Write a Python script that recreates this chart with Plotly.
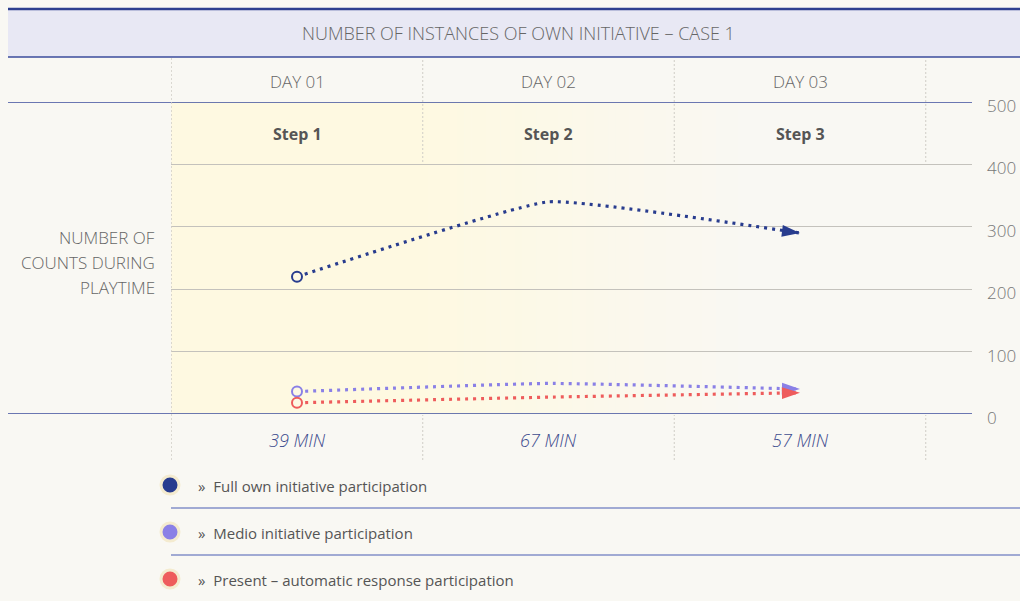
import plotly.graph_objects as go

# ---------------- data ----------------
categories = ["DAY 01", "DAY 02", "DAY 03"]
steps = ["Step 1", "Step 2", "Step 3"]
durations = ["39 MIN", "67 MIN", "57 MIN"]
series_names = [
    "Full own initiative participation",
    "Medio initiative participation",
    "Present – automatic response participation",
]
full_own = [220, 340, 290]
medio = [36, 49, 40]
present = [18, 27, 34]
y_ticks = [0, 100, 200, 300, 400, 500]
title_text = "NUMBER OF INSTANCES OF OWN INITIATIVE – CASE 1"
y_title_lines = ["NUMBER OF", "COUNTS DURING", "PLAYTIME"]

# ---------------- style ----------------
W, H = 1020, 601
BG = "#f9f8f3"
YEL = (254, 249, 225)
BGC = (249, 248, 243)
BLUE_LINE = "#3b4c9c"
COLORS = ["#283c8e", "#8a80e6", "#ee5c5c"]
FONT = "Open Sans"


def sx(x):
    return x / W


def sy(y):
    return 1 - y / H


X0_PX, STEP_PX = 297.0, 251.5


def xd(p):
    return (p - X0_PX) / STEP_PX


xi = list(range(len(categories)))
series = [full_own, medio, present]

fig = go.Figure()

for name, vals, col in zip(series_names, series, COLORS):
    n = len(vals)
    fig.add_trace(go.Scatter(
        x=xi, y=vals, mode="lines+markers", name=name,
        line=dict(color=col, width=3.2, dash="3px,5px", shape="spline", smoothing=0.35),
        marker=dict(symbol="arrow", size=[0] * (n - 1) + [19], color=col, opacity=1,
                    angleref="previous", line=dict(width=0)),
        showlegend=False, hoverinfo="skip", cliponaxis=False,
    ))
    fig.add_trace(go.Scatter(
        x=xi[:1], y=vals[:1], mode="markers", name=name,
        marker=dict(symbol="circle", size=10, color="#fdf8e4", line=dict(color=col, width=2)),
        showlegend=False, hoverinfo="skip", cliponaxis=False,
    ))

shapes = []
shapes.append(dict(type="rect", xref="x", yref="y", x0=-0.5, x1=xd(421), y0=0, y1=500,
                   fillcolor="rgb(%d,%d,%d)" % YEL, line=dict(width=0), layer="below"))
N = 45
g0, g1 = 421.0, 745.0
for i in range(N):
    a = g0 + (g1 - g0) * i / N
    b = g0 + (g1 - g0) * (i + 1) / N
    t = (i + 0.5) / N
    c = tuple(round(YEL[k] + (BGC[k] - YEL[k]) * t) for k in range(3))
    shapes.append(dict(type="rect", xref="x", yref="y", x0=xd(a), x1=xd(b) + 0.002, y0=0, y1=500,
                       fillcolor="rgb(%d,%d,%d)" % c, line=dict(width=0), layer="below"))

# header band
shapes.append(dict(type="rect", xref="paper", yref="paper", x0=sx(8), x1=1, y0=sy(57), y1=sy(8),
                   fillcolor="#e8e8f4", line=dict(width=0), layer="below"))
shapes.append(dict(type="line", xref="paper", yref="paper", x0=sx(8), x1=1, y0=sy(9), y1=sy(9),
                   line=dict(color="#2e3f8f", width=2.5)))
shapes.append(dict(type="line", xref="paper", yref="paper", x0=sx(8), x1=1, y0=sy(57), y1=sy(57),
                   line=dict(color=BLUE_LINE, width=1.5)))
for v in (0, 500):
    shapes.append(dict(type="line", xref="paper", yref="y", x0=sx(8), x1=sx(972), y0=v, y1=v,
                       line=dict(color=BLUE_LINE, width=1.5)))
bounds = [i - 0.5 for i in range(len(categories) + 1)]
for j, b in enumerate(bounds):
    if j == 0:
        shapes.append(dict(type="line", xref="x", yref="paper", x0=b, x1=b, y0=sy(460), y1=sy(58),
                           line=dict(color="#cfcdc6", width=1, dash="2px,2px")))
    else:
        shapes.append(dict(type="line", xref="x", yref="paper", x0=b, x1=b, y0=sy(162), y1=sy(58),
                           line=dict(color="#cfcdc6", width=1, dash="2px,2px")))
        shapes.append(dict(type="line", xref="x", yref="paper", x0=b, x1=b, y0=sy(460), y1=sy(415),
                           line=dict(color="#cfcdc6", width=1, dash="2px,2px")))
for yy in (508, 555):
    shapes.append(dict(type="line", xref="paper", yref="paper", x0=sx(171), x1=1, y0=sy(yy), y1=sy(yy),
                       line=dict(color="#8391c9", width=1.5)))
for k, col in enumerate(COLORS):
    cy = 485 + 47 * k
    shapes.append(dict(type="circle", xref="paper", yref="paper", x0=sx(161), x1=sx(179),
                       y0=sy(cy + 9), y1=sy(cy - 9), fillcolor=col,
                       line=dict(color="#f4ebcf", width=3)))

LIGHT = dict(family=FONT, weight=300)
annotations = []
annotations.append(dict(text=title_text, xref="paper", yref="paper", x=sx(518), y=sy(33),
                        showarrow=False, font=dict(**LIGHT, size=18, color="#666666"),
                        xanchor="center", yanchor="middle"))
for i, c in enumerate(categories):
    annotations.append(dict(text=c, xref="x", yref="paper", x=i, y=sy(81), showarrow=False,
                            font=dict(**LIGHT, size=17, color="#666666"), yanchor="middle"))
for i, s in enumerate(steps):
    annotations.append(dict(text="<b>%s</b>" % s, xref="x", yref="paper", x=i, y=sy(134), showarrow=False,
                            font=dict(family=FONT, size=16, color="#555555"), yanchor="middle"))
for i, d in enumerate(durations):
    annotations.append(dict(text="<i>%s</i>" % d, xref="x", yref="paper", x=i, y=sy(440), showarrow=False,
                            font=dict(**LIGHT, size=18, color="#3e4c8e"), yanchor="middle"))
for k, ln in enumerate(y_title_lines):
    annotations.append(dict(text=ln, xref="paper", yref="paper", x=sx(157), y=sy(237 + 25 * k),
                            showarrow=False, xanchor="right", yanchor="middle",
                            font=dict(**LIGHT, size=17, color="#666666")))
for k, nm in enumerate(series_names):
    annotations.append(dict(text="»  " + nm, xref="paper", yref="paper", x=sx(196), y=sy(486 + 47 * k),
                            showarrow=False, xanchor="left", yanchor="middle",
                            font=dict(family=FONT, size=15, color="#555555")))

fig.update_layout(
    width=W, height=H, margin=dict(l=0, r=0, t=0, b=0, pad=0, autoexpand=False),
    paper_bgcolor=BG, plot_bgcolor="rgba(0,0,0,0)",
    xaxis=dict(domain=[sx(171), sx(972)], range=[xd(171), xd(972)], visible=False,
               fixedrange=True, automargin=False),
    yaxis=dict(domain=[sy(414), sy(102)], range=[0, 500], side="right", tickvals=y_ticks,
               showgrid=True, gridcolor="#c4c2bc", gridwidth=1, zeroline=False, showline=False,
               ticks="", ticklabelstandoff=14, ticklabelshift=4, automargin=False,
               tickfont=dict(**LIGHT, size=17, color="#777777"), fixedrange=True),
    shapes=shapes, annotations=annotations, showlegend=False,
)

fig.write_html(
    "out.html",
    config={"displayModeBar": False, "staticPlot": True},
    post_script="document.body.style.margin='0';document.body.style.overflow='hidden';"
                "document.body.style.background='%s';" % BG,
)
